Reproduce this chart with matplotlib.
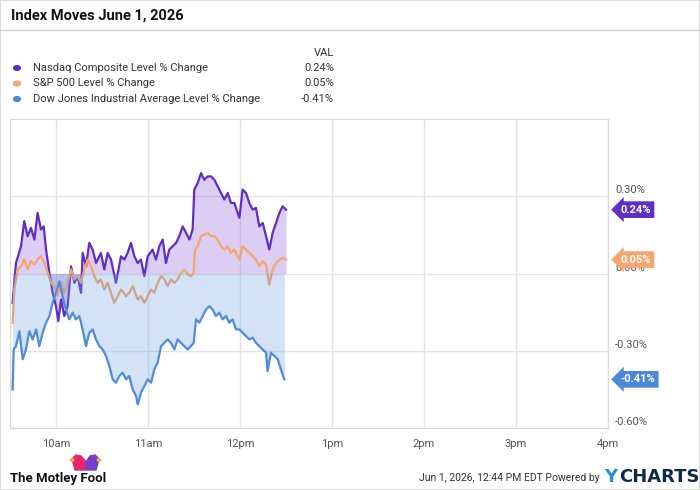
import matplotlib
matplotlib.use("Agg")
import matplotlib.pyplot as plt
from matplotlib.patches import Rectangle, Polygon, Circle
from matplotlib.lines import Line2D
from matplotlib.transforms import blended_transform_factory, ScaledTranslation

# Minutes after 9:30am, and % change for each index.
nasdaqTime = [1.7, 3.9, 7.2, 9.3, 11.5, 13.7, 15.9, 18.0, 20.2, 22.0, 23.5, 25.7, 27.8, 30.0, 31.5,
              33.3, 35.4, 37.6, 39.8, 42.0, 44.1, 46.3, 47.4, 49.6, 51.7, 53.9, 56.1, 59.3, 61.5, 63.7,
              65.9, 69.1, 72.4, 74.6, 76.7, 78.9, 81.1, 83.3, 85.4, 87.6, 89.8, 93.0, 95.2, 97.4, 99.6,
              101.7, 103.9, 106.1, 108.3, 110.4, 112.6, 114.8, 117.0, 119.1, 120.2, 122.4, 124.6, 126.7,
              128.9, 131.1, 133.3, 135.4, 137.6, 139.8, 142.0, 144.1, 146.3, 149.6, 151.7, 153.9, 156.1,
              158.3, 160.4, 162.6, 164.8, 167.0, 169.1, 171.3, 173.5, 175.7, 177.8, 180.0]
nasdaq = [-0.114, 0.041, 0.106, 0.203, 0.145, 0.177, 0.132, 0.235, 0.171, 0.183, 0.093, 0.003, -0.075,
          -0.127, -0.185, -0.101, -0.165, -0.127, 0.028, -0.036, -0.010, -0.075, 0.080, 0.028, 0.119,
          0.093, 0.041, 0.080, 0.016, 0.080, 0.054, -0.036, 0.067, 0.054, 0.080, 0.119, 0.067, 0.041,
          0.054, -0.010, 0.067, 0.093, 0.054, 0.106, 0.132, 0.041, 0.093, 0.106, 0.119, 0.145, 0.183,
          0.158, 0.132, 0.171, 0.326, 0.351, 0.390, 0.364, 0.377, 0.377, 0.364, 0.339, 0.313, 0.287,
          0.313, 0.274, 0.274, 0.216, 0.326, 0.313, 0.274, 0.248, 0.255, 0.183, 0.196, 0.145, 0.093,
          0.158, 0.196, 0.235, 0.261, 0.248]

spTime = [1.7, 2.8, 5.0, 7.2, 9.3, 11.5, 13.7, 15.9, 18.0, 20.2, 22.4, 24.6, 26.7, 28.9, 31.1, 33.3,
          35.4, 37.6, 39.8, 42.0, 44.1, 46.3, 48.5, 50.7, 52.8, 55.0, 57.2, 59.3, 61.5, 63.7, 65.9,
          68.0, 70.2, 72.4, 75.7, 77.8, 80.0, 83.3, 85.4, 87.6, 89.8, 92.0, 94.1, 96.3, 98.5, 100.7,
          102.8, 105.0, 107.2, 109.3, 111.5, 113.7, 115.9, 118.0, 119.8, 120.7, 122.4, 124.6, 126.7,
          128.9, 131.1, 133.3, 135.4, 137.6, 139.8, 142.0, 144.1, 146.3, 149.6, 151.7, 153.9, 156.1,
          158.3, 160.4, 162.6, 164.8, 167.0, 169.1, 171.3, 173.5, 175.7, 177.8, 180.0]
sp500 = [-0.191, -0.062, 0.016, 0.028, 0.054, 0.016, 0.048, 0.035, 0.054, 0.067, 0.041, 0.003, -0.036,
         -0.049, -0.088, -0.036, -0.075, -0.036, 0.016, -0.023, -0.010, -0.036, 0.016, 0.054, 0.028,
         -0.010, -0.036, -0.023, -0.062, -0.036, -0.075, -0.114, -0.088, -0.062, -0.088, -0.075, -0.049,
         -0.101, -0.088, -0.114, -0.088, -0.062, -0.075, -0.036, -0.010, -0.023, -0.049, -0.023, -0.036,
         -0.023, 0.003, 0.016, -0.004, -0.010, 0.003, 0.093, 0.106, 0.145, 0.151, 0.158, 0.145, 0.145,
         0.132, 0.106, 0.093, 0.106, 0.080, 0.093, 0.054, 0.106, 0.093, 0.080, 0.067, 0.054, 0.028,
         0.048, 0.035, -0.043, 0.016, 0.041, 0.054, 0.061, 0.054]

dowTime = [1.7, 2.4, 3.9, 6.1, 8.3, 10.4, 12.6, 14.8, 17.0, 19.1, 21.3, 23.5, 25.7, 27.8, 30.0, 32.2,
           34.3, 36.5, 38.7, 40.9, 43.0, 45.2, 47.4, 49.6, 51.7, 53.9, 56.1, 58.3, 60.4, 62.6, 64.8,
           67.0, 69.1, 71.3, 73.5, 75.7, 77.8, 80.0, 82.2, 83.3, 85.4, 87.6, 89.8, 92.0, 94.1, 96.3,
           98.5, 100.7, 102.8, 105.0, 107.2, 109.3, 111.5, 113.7, 115.9, 118.0, 119.8, 121.3, 123.5,
           125.7, 127.8, 130.0, 132.2, 134.3, 136.5, 138.7, 140.9, 143.0, 145.2, 147.4, 149.6, 151.7,
           153.9, 156.1, 158.3, 160.4, 162.6, 164.8, 167.0, 168.0, 170.2, 172.4, 174.6, 176.7, 178.9]
dow = [-0.450, -0.295, -0.282, -0.224, -0.333, -0.295, -0.224, -0.256, -0.217, -0.282, -0.230, -0.191,
       -0.165, -0.114, -0.075, -0.030, -0.088, -0.140, -0.178, -0.152, -0.178, -0.165, -0.217, -0.282,
       -0.230, -0.217, -0.256, -0.282, -0.295, -0.320, -0.359, -0.411, -0.424, -0.398, -0.385, -0.411,
       -0.398, -0.450, -0.475, -0.508, -0.463, -0.437, -0.411, -0.424, -0.372, -0.346, -0.282, -0.269,
       -0.256, -0.269, -0.295, -0.256, -0.269, -0.282, -0.295, -0.282, -0.269, -0.178, -0.191, -0.165,
       -0.140, -0.127, -0.140, -0.165, -0.152, -0.178, -0.165, -0.191, -0.178, -0.217, -0.217, -0.230,
       -0.243, -0.256, -0.249, -0.269, -0.282, -0.295, -0.307, -0.379, -0.307, -0.320, -0.333, -0.372,
       -0.411]

seriesNames = ["Nasdaq Composite Level % Change", "S&P 500 Level % Change",
               "Dow Jones Industrial Average Level % Change"]
lastValues = ["0.24%", "0.05%", "-0.41%"]
xTicks = [30, 90, 150, 210, 270, 330, 390]
xLabels = ["10am", "11am", "12pm", "1pm", "2pm", "3pm", "4pm"]
yTicks = [-0.6, -0.3, 0.0, 0.3]
yLabels = ["-0.60%", "-0.30%", "0.00%", "0.30%"]

purple, orange, blue = "#5f2ec4", "#f6a56c", "#4a88d8"
grey = "#555555"

plt.rcParams["font.family"] = ["Roboto", "DejaVu Sans"]

W, H = 700, 490
fig = plt.figure(figsize=(7, 4.9), dpi=100)

def fx(px): return px / W
def fy(py): return 1 - py / H

# Frame and header.
fig.patches.append(Rectangle((0, 0), 1, 1, transform=fig.transFigure, fill=False,
                             edgecolor="#d6d6d6", lw=1.2))
fig.lines.append(Line2D([0, 1], [fy(30), fy(30)], transform=fig.transFigure, color="#d0d0d0", lw=1))
fig.text(fx(11), fy(16), "Index Moves June 1, 2026", fontsize=10.5, fontweight="bold",
         family=["Liberation Sans Narrow", "Roboto"], color="#111111", va="center")

# Legend.
fig.text(fx(334), fy(53), "VAL", fontsize=8, color="#333333", ha="right", va="center")
for i, (name, val, col) in enumerate(zip(seriesNames, lastValues, [purple, orange, blue])):
    yy = fy(68 + 15.5 * i)
    fig.patches.append(Circle((fx(17), yy), 0.0048, transform=fig.transFigure, color=col))
    fig.text(fx(33), yy, name, fontsize=8, color="#333333", va="center")
    fig.text(fx(334), yy, val, fontsize=8, color="#333333", va="center", ha="right")

ax = fig.add_axes([fx(10), fy(428), fx(598), 309 / H])
ax.fill_between(nasdaqTime, nasdaq, 0, color="#8a5ad8", alpha=0.3, lw=0, zorder=1.8)
ax.plot(nasdaqTime, nasdaq, color=purple, lw=1.6, zorder=2)
ax.plot(spTime, sp500, color=orange, lw=1.6, zorder=2)
ax.plot(dowTime, dow, color=blue, lw=1.6, zorder=2)
ax.fill_between(dowTime, dow, 0, color="#6f9fe0", alpha=0.3, lw=0, zorder=3)

ax.set_xlim(0, 390)
ax.set_ylim(-0.6, 0.6)
ax.set_xticks(xTicks)
ax.set_xticklabels(xLabels)
ax.set_yticks(yTicks)
ax.set_yticklabels(yLabels)
ax.yaxis.tick_right()
ax.grid(True, color="#e4e4e4", lw=1, zorder=0)
ax.set_axisbelow(True)
ax.tick_params(axis="both", length=0, labelsize=8, labelcolor=grey)
ax.tick_params(axis="x", pad=8)
ax.tick_params(axis="y", pad=5)
for lab in ax.get_yticklabels():
    lab.set_transform(lab.get_transform() + ScaledTranslation(0, 5 / 72, fig.dpi_scale_trans))
for sp in ax.spines.values():
    sp.set_color("#d9d9d9")

# Value tags on the right.
trans = blended_transform_factory(ax.transAxes, ax.transData)
for val, col, y in zip(lastValues, [purple, orange, blue], [nasdaq[-1], sp500[-1], dow[-1]]):
    ax.annotate(val, xy=(1.0, y), xycoords=trans, xytext=(9, 0), textcoords="offset points",
                ha="left", va="center", fontsize=8, fontweight="bold", color="white",
                annotation_clip=False, zorder=5,
                bbox=dict(boxstyle="larrow,pad=0.3", fc=col, ec="none"))

# Footer.
fig.text(fx(10), fy(478), "The Motley Fool", fontsize=9.5, fontweight="bold",
         family=["Liberation Sans Narrow", "Roboto"], color="#111111", va="center")
fig.patches.append(Polygon([(fx(75), fy(470)), (fx(72), fy(459)), (fx(76), fy(455)),
                            (fx(81), fy(456)), (fx(86), fy(462)), (fx(86), fy(470))],
                           closed=True, transform=fig.transFigure, color="#e3266f"))
fig.patches.append(Polygon([(fx(86), fy(470)), (fx(86), fy(462)), (fx(90), fy(456)),
                            (fx(95), fy(455)), (fx(99), fy(459)), (fx(96), fy(470))],
                           closed=True, transform=fig.transFigure, color="#7440c6"))
for bx, by in [(72, 460), (99, 460)]:
    fig.patches.append(Circle((fx(bx), fy(by)), 0.0025, transform=fig.transFigure, color="#f2b233"))
fig.text(fx(600), fy(478), "Jun 1, 2026, 12:44 PM EDT Powered by", fontsize=7.5,
         family=["Liberation Sans Narrow", "Roboto"], color="#333333", ha="right", va="center")
fig.text(fx(604), fy(477), "Y", fontsize=13, fontweight="bold", family="DejaVu Sans",
         color="#1f8fe0", va="center")
fig.text(fx(619), fy(477), "CHARTS", fontsize=13, fontweight="bold", family="DejaVu Sans",
         color="#0f2a48", va="center")

fig.savefig("out.png", dpi=100, facecolor="white")
